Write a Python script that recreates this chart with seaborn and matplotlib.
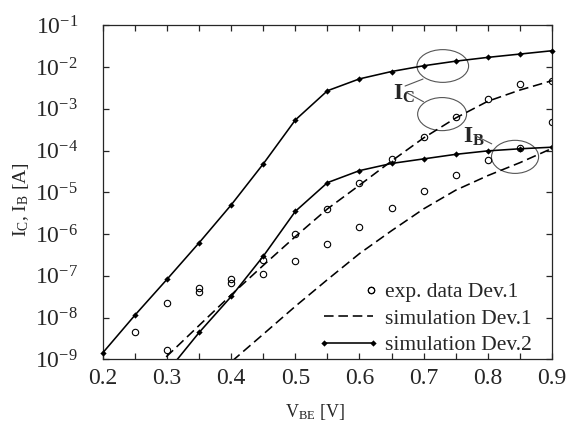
import numpy as np
import pandas as pd
import seaborn as sns
import matplotlib
matplotlib.use('Agg')
import matplotlib.pyplot as plt
from matplotlib.lines import Line2D
from matplotlib.patches import Ellipse
from matplotlib.legend_handler import HandlerLine2D

# --- values (V_BE in V, currents in A) ---
vbe_dev2 = [0.20, 0.25, 0.30, 0.35, 0.40, 0.45, 0.50, 0.55, 0.60, 0.65, 0.70, 0.75, 0.80, 0.85, 0.90]
ic_dev2 = [1.45e-9, 1.15e-8, 8.3e-8, 6.2e-7, 5.0e-6, 4.8e-5, 5.4e-4, 2.7e-3, 5.2e-3, 7.8e-3,
           1.07e-2, 1.38e-2, 1.70e-2, 2.04e-2, 2.45e-2]

vbe_ib_dev2 = [0.30, 0.35, 0.40, 0.45, 0.50, 0.55, 0.60, 0.65, 0.70, 0.75, 0.80, 0.85, 0.90]
ib_dev2 = [5.0e-10, 4.4e-9, 3.2e-8, 2.95e-7, 3.5e-6, 1.7e-5, 3.3e-5, 4.9e-5, 6.3e-5, 8.1e-5,
           9.8e-5, 1.10e-4, 1.20e-4]

vbe_ic_dev1 = [0.25, 0.30, 0.35, 0.40, 0.45, 0.50, 0.55, 0.60, 0.65, 0.70, 0.75, 0.80, 0.85, 0.90]
ic_dev1 = [2.2e-10, 1.2e-9, 6.5e-9, 3.5e-8, 1.78e-7, 8.7e-7, 4.0e-6, 1.48e-5, 5.6e-5, 2.0e-4,
           6.0e-4, 1.51e-3, 2.8e-3, 4.7e-3]

vbe_ib_dev1 = [0.35, 0.40, 0.45, 0.50, 0.55, 0.60, 0.65, 0.70, 0.75, 0.80, 0.85, 0.90]
ib_dev1 = [2.0e-10, 8.7e-10, 4.0e-9, 1.86e-8, 8.1e-8, 3.4e-7, 1.2e-6, 4.0e-6, 1.12e-5, 2.5e-5,
           5.1e-5, 1.12e-4]

vbe_ic_exp = [0.25, 0.30, 0.35, 0.40, 0.45, 0.50, 0.55, 0.60, 0.65, 0.70, 0.75, 0.80, 0.85, 0.90]
ic_exp = [4.5e-9, 2.2e-8, 5.0e-8, 8.3e-8, 2.4e-7, 9.8e-7, 4.0e-6, 1.66e-5, 6.2e-5, 2.1e-4,
          6.3e-4, 1.7e-3, 3.9e-3, 4.7e-3]

vbe_ib_exp = [0.30, 0.35, 0.40, 0.45, 0.50, 0.55, 0.60, 0.65, 0.70, 0.75, 0.80, 0.85, 0.90]
ib_exp = [1.66e-9, 4.0e-8, 6.9e-8, 1.1e-7, 2.3e-7, 5.8e-7, 1.5e-6, 4.3e-6, 1.1e-5, 2.6e-5,
          5.8e-5, 1.12e-4, 4.9e-4]

xticks = [0.2, 0.3, 0.4, 0.5, 0.6, 0.7, 0.8, 0.9]
xtick_labels = ['0.2', '0.3', '0.4', '0.5', '0.6', '0.7', '0.8', '0.9']
yticks = [1e-9, 1e-8, 1e-7, 1e-6, 1e-5, 1e-4, 1e-3, 1e-2, 1e-1]
ytick_labels = [r'$10^{-9}$', r'$10^{-8}$', r'$10^{-7}$', r'$10^{-6}$', r'$10^{-5}$',
                r'$10^{-4}$', r'$10^{-3}$', r'$10^{-2}$', r'$10^{-1}$']
legend_labels = ['exp. data Dev.1', 'simulation Dev.1', 'simulation Dev.2']

sns.set_style('ticks', {'xtick.direction': 'in', 'ytick.direction': 'in'})
plt.rcParams['font.family'] = ['Liberation Serif', 'DejaVu Serif']
plt.rcParams['mathtext.fontset'] = 'custom'
plt.rcParams['mathtext.rm'] = 'Liberation Serif'
plt.rcParams['mathtext.it'] = 'Liberation Serif:italic'
plt.rcParams['mathtext.bf'] = 'Liberation Serif:bold'

fig = plt.figure(figsize=(5.66, 4.25), dpi=100)
ax = fig.add_axes([0.182, 0.1546, 0.793, 0.786])

dash = (0, (6, 3))
line_kw = dict(color='black', linewidth=1.15, ax=ax, legend=False)

# simulation Dev.2 (solid with diamonds)
sns.lineplot(x=vbe_dev2, y=ic_dev2, marker='D', markersize=3.2, markeredgewidth=0,
             clip_on=False, zorder=4, **line_kw)
sns.lineplot(x=vbe_ib_dev2, y=ib_dev2, marker='D', markersize=3.2, markeredgewidth=0, **line_kw)
# simulation Dev.1 (dashed)
sns.lineplot(x=vbe_ic_dev1, y=ic_dev1, linestyle=dash, **line_kw)
sns.lineplot(x=vbe_ib_dev1, y=ib_dev1, linestyle=dash, **line_kw)
# measured Dev.1 (open circles)
circ_kw = dict(linestyle='none', marker='o', markersize=4.6, markerfacecolor='none',
               markeredgecolor='black', markeredgewidth=0.8, ax=ax, legend=False)
sns.lineplot(x=vbe_ic_exp, y=ic_exp, **circ_kw)
sns.lineplot(x=vbe_ib_exp, y=ib_exp, **circ_kw)

ax.set_yscale('log')
ax.set_xlim(0.2, 0.9)
ax.set_ylim(1e-9, 1e-1)
ax.set_xticks(xticks, labels=xtick_labels)
ax.set_xticks(np.arange(0.25, 0.9, 0.1), minor=True)
ax.set_yticks(yticks, labels=ytick_labels)
ax.yaxis.set_minor_locator(matplotlib.ticker.NullLocator())
ax.tick_params(which='both', top=True, right=True, direction='in', length=4, width=0.9)
ax.tick_params(axis='x', labelsize=17, pad=6)
ax.tick_params(axis='y', labelsize=17, pad=18)
for s in ax.spines.values():
    s.set_linewidth(0.9)

ax.set_xlabel(r'V$_{\mathrm{BE}}$ [V]', fontsize=13)
ax.xaxis.set_label_coords(0.4725, -0.128)
ax.set_ylabel(r'I$_{\mathrm{C}}$, I$_{\mathrm{B}}$ [A]', fontsize=14)
ax.yaxis.set_label_coords(-0.16, 0.478)

# ellipse call-outs
for cx, cy, w, h in [(0.757, 0.878, 0.115, 0.098), (0.7555, 0.734, 0.109, 0.099),
                     (0.918, 0.606, 0.105, 0.099)]:
    ax.add_patch(Ellipse((cx, cy), w, h, transform=ax.transAxes, fill=False,
                         edgecolor='#555555', linewidth=0.8))
ax.text(0.646, 0.776, r'I$_{\mathbf{C}}$', transform=ax.transAxes, fontsize=17,
        fontweight='bold', ha='left', va='baseline')
ax.text(0.802, 0.648, r'I$_{\mathbf{B}}$', transform=ax.transAxes, fontsize=17,
        fontweight='bold', ha='left', va='baseline')
for (x0, y0), (x1, y1) in [((0.673, 0.818), (0.713, 0.839)),
                           ((0.677, 0.798), (0.714, 0.771)),
                           ((0.830, 0.669), (0.866, 0.645))]:
    ax.annotate('', xy=(x1, y1), xytext=(x0, y0), xycoords='axes fraction',
                arrowprops=dict(arrowstyle='-', color='#555555', linewidth=0.8,
                                shrinkA=0, shrinkB=0))


class RightMarker(HandlerLine2D):
    # put the single circle at the right end of the handle, as in the original
    def get_xdata(self, legend, xdescent, ydescent, width, height, fontsize):
        xr = -xdescent + width - 0.1 * fontsize
        return [xr, xr], [xr, xr]


h_exp = Line2D([], [], linestyle='none', marker='o', markersize=4.6, markerfacecolor='none',
               markeredgecolor='black', markeredgewidth=0.8)
h_sim1 = Line2D([], [], color='black', linewidth=1.15, linestyle=dash)
h_sim2 = Line2D([], [], color='black', linewidth=1.15, marker='D', markersize=3.2,
                markeredgewidth=0)
ax.legend([h_exp, h_sim1, h_sim2], legend_labels, loc='lower right',
          bbox_to_anchor=(0.955, 0.012), frameon=False, fontsize=15.5,
          handlelength=2.3, handletextpad=0.55, labelspacing=0.3, borderpad=0,
          borderaxespad=0,
          handler_map={h_exp: RightMarker(numpoints=2),
                       h_sim2: HandlerLine2D(numpoints=2, marker_pad=0)})

fig.savefig('out.png', dpi=100)
